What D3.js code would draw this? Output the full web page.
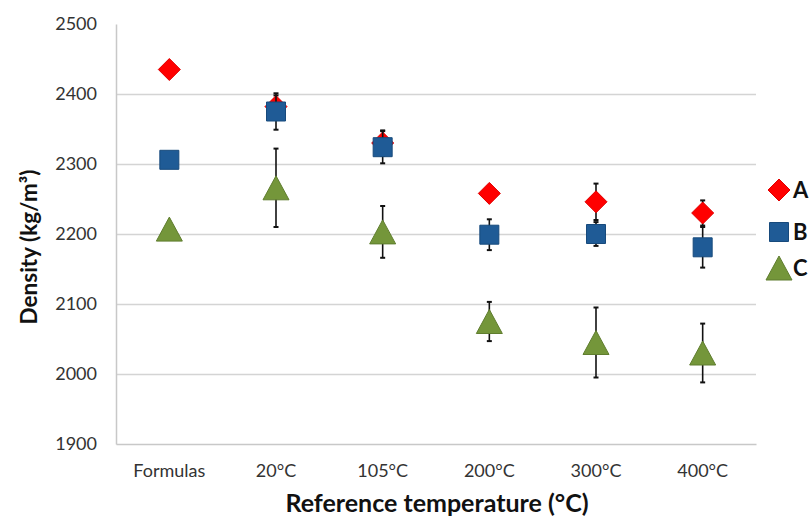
<!DOCTYPE html>
<html>
<head>
<meta charset="utf-8">
<script src="https://cdn.jsdelivr.net/npm/d3@7"></script>
<style>
  body { margin: 0; background: #fff; }
  .chart text { font-family: Lato, "Open Sans", sans-serif; }
</style>
</head>
<body>
<div class="chart"></div>
<script>
(function() {
  // values
  var categories = ["Formulas", "20°C", "105°C", "200°C", "300°C", "400°C"];
  var densityA = [2435, 2382, 2330, 2258, 2246, 2230];
  var densityB = [2306, 2375, 2324, 2199, 2200, 2181];
  var densityC = [2207, 2266, 2203, 2075, 2045, 2030];
  var errorA = [0, 16, 18, 10, 26, 18];
  var errorB = [0, 26, 23, 22, 17, 29];
  var errorC = [0, 56, 37, 28, 50, 42];
  var yTicks = [1900, 2000, 2100, 2200, 2300, 2400, 2500];

  var
    width = 811,
    height = 520,
    plot = { left: 116, right: 756, top: 24, bottom: 444 };

  var svg = d3.select(".chart").append("svg")
    .attr("width", width)
    .attr("height", height);

  var x = d3.scaleBand().domain(categories).range([plot.left, plot.right]);
  var y = d3.scaleLinear().domain([1900, 2500]).range([plot.bottom, plot.top]);

  // marker shapes, centred on the marker box
  function diamond(s) { return "M0," + (-s) + "L" + s + ",0L0," + s + "L" + (-s) + ",0Z"; }
  function square(s) { return "M" + (-s) + "," + (-s) + "h" + (2*s) + "v" + (2*s) + "h" + (-2*s) + "Z"; }
  function triangle(s) { return "M0," + (-s) + "L" + (s + 1) + "," + s + "L" + (-s - 1) + "," + s + "Z"; }

  var series = [
    { name: "A", values: densityA, errors: errorA, shape: diamond(11), fill: "#ff0000", stroke: "#e00000" },
    { name: "B", values: densityB, errors: errorB, shape: square(9.5), fill: "#1f5b96", stroke: "#174a7c" },
    { name: "C", values: densityC, errors: errorC, shape: triangle(12), fill: "#74963a", stroke: "#5f7d2e" }
  ];

  // gridlines
  svg.append("g")
    .attr("transform", "translate(" + plot.left + ",0)")
    .call(d3.axisLeft(y).tickValues(yTicks.slice(1, -1)).tickSize(-(plot.right - plot.left)).tickFormat(""))
    .call(function(g) {
      g.select(".domain").remove();
      g.selectAll("line").attr("stroke", "#d4d4d4").attr("stroke-width", 1.5);
    });

  // y axis
  svg.append("g")
    .attr("transform", "translate(" + plot.left + ",0)")
    .call(d3.axisLeft(y).tickValues(yTicks).tickFormat(d3.format("d")).tickSize(0).tickPadding(19))
    .call(function(g) {
      g.select(".domain").attr("stroke", "#c8c8c8").attr("stroke-width", 1.5);
      g.selectAll("text").attr("font-size", 18).attr("fill", "#333");
    });

  // x axis
  svg.append("g")
    .attr("transform", "translate(0," + plot.bottom + ")")
    .call(d3.axisBottom(x).tickSize(0).tickPadding(20))
    .call(function(g) {
      g.select(".domain").attr("stroke", "#c8c8c8").attr("stroke-width", 1.5);
      g.selectAll("text").attr("font-size", 18).attr("fill", "#333");
    });

  var cx = function(i) { return x(categories[i]) + x.bandwidth() / 2; };

  series.forEach(function(s) {
    var g = svg.append("g").attr("class", "series " + s.name);
    var idx = d3.range(categories.length).filter(function(i) { return s.errors[i] > 0; });

    g.selectAll("line.err")
      .data(idx).enter()
      .append("line")
        .attr("class", "err")
        .attr("x1", cx).attr("x2", cx)
        .attr("y1", function(i) { return y(s.values[i] + s.errors[i]); })
        .attr("y2", function(i) { return y(s.values[i] - s.errors[i]); })
        .attr("stroke", "#111").attr("stroke-width", 1.6);

    [1, -1].forEach(function(sign) {
      g.selectAll("line.cap" + sign)
        .data(idx).enter()
        .append("line")
          .attr("x1", function(i) { return cx(i) - 2.5; })
          .attr("x2", function(i) { return cx(i) + 2.5; })
          .attr("y1", function(i) { return y(s.values[i] + sign * s.errors[i]); })
          .attr("y2", function(i) { return y(s.values[i] + sign * s.errors[i]); })
          .attr("stroke", "#111").attr("stroke-width", 2);
    });

    g.selectAll("path")
      .data(s.values).enter()
      .append("path")
        .attr("d", s.shape)
        .attr("transform", function(d, i) { return "translate(" + cx(i) + "," + y(d) + ")"; })
        .attr("fill", s.fill)
        .attr("stroke", s.stroke)
        .attr("stroke-width", 1);
  });

  // legend
  var legend = svg.append("g").attr("transform", "translate(779,190)");
  var items = legend.selectAll("g")
    .data(series).enter()
    .append("g")
      .attr("transform", function(d, i) { return "translate(0," + [0, 42, 78][i] + ")"; });
  items.append("path")
    .attr("d", function(d) { return d.shape; })
    .attr("fill", function(d) { return d.fill; })
    .attr("stroke", function(d) { return d.stroke; });
  items.append("text")
    .attr("x", 14)
    .attr("dy", "0.36em")
    .attr("font-size", 22)
    .attr("font-weight", "bold")
    .attr("fill", "#111")
    .text(function(d) { return d.name; });

  // axis titles
  svg.append("text")
    .attr("x", 437)
    .attr("y", 512)
    .attr("text-anchor", "middle")
    .attr("font-size", 25)
    .attr("font-weight", "bold")
    .attr("fill", "#111")
    .text("Reference temperature (°C)");

  svg.append("text")
    .attr("transform", "translate(37,247) rotate(-90)")
    .attr("text-anchor", "middle")
    .attr("font-size", 22.5)
    .attr("font-weight", "bold")
    .attr("fill", "#111")
    .text("Density (kg/m³)");
})();
</script>
</body>
</html>
